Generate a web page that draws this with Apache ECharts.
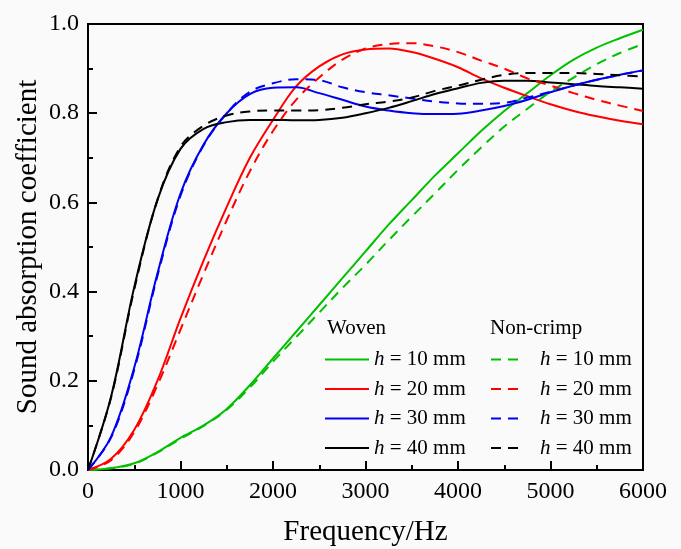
<!DOCTYPE html>
<html>
<head>
<meta charset="utf-8">
<script src="https://cdn.jsdelivr.net/npm/echarts@6/dist/echarts.min.js"></script>
<style>
  html, body { margin: 0; padding: 0; background: #fafafa; }
  #chart { width: 681px; height: 549px; }
</style>
</head>
<body>
<div id="chart"></div>
<script>
// frequency grid (Hz)
var freq = [0, 250, 500, 750, 1000, 1250, 1500, 1750, 2000, 2250, 2500, 2750,
  3000, 3250, 3500, 3750, 4000, 4250, 4500, 4750, 5000, 5250, 5500, 5750, 6000];

// woven
var woven10 = [0, 0.004, 0.015, 0.04, 0.072, 0.1, 0.137, 0.19, 0.25, 0.31, 0.37, 0.43,
  0.49, 0.55, 0.605, 0.66, 0.71, 0.76, 0.805, 0.845, 0.885, 0.92, 0.947, 0.968, 0.987];
var woven20 = [0, 0.025, 0.09, 0.2, 0.34, 0.47, 0.59, 0.7, 0.785, 0.86, 0.905, 0.932,
  0.943, 0.945, 0.937, 0.922, 0.903, 0.878, 0.857, 0.838, 0.82, 0.805, 0.793, 0.783, 0.775];
var woven30 = [0, 0.075, 0.23, 0.44, 0.62, 0.73, 0.8, 0.843, 0.857, 0.858, 0.845, 0.83,
  0.815, 0.806, 0.8, 0.798, 0.799, 0.806, 0.816, 0.83, 0.847, 0.862, 0.875, 0.886, 0.896];
var woven40 = [0, 0.165, 0.41, 0.605, 0.72, 0.765, 0.78, 0.785, 0.785, 0.784, 0.785, 0.79,
  0.8, 0.812, 0.827, 0.843, 0.856, 0.868, 0.873, 0.873, 0.869, 0.865, 0.861, 0.858, 0.855];

// non-crimp
var ncf10 = [0, 0.004, 0.014, 0.039, 0.07, 0.099, 0.135, 0.185, 0.243, 0.298, 0.353, 0.408,
  0.46, 0.515, 0.568, 0.62, 0.673, 0.723, 0.77, 0.81, 0.848, 0.88, 0.91, 0.935, 0.955];
var ncf20 = [0, 0.022, 0.085, 0.19, 0.315, 0.44, 0.56, 0.67, 0.76, 0.83, 0.88, 0.92,
  0.945, 0.955, 0.957, 0.95, 0.937, 0.918, 0.9, 0.878, 0.862, 0.845, 0.83, 0.817, 0.805];
var ncf30 = [0, 0.073, 0.225, 0.435, 0.615, 0.728, 0.8, 0.848, 0.867, 0.876, 0.874, 0.858,
  0.847, 0.84, 0.833, 0.826, 0.822, 0.821, 0.823, 0.835, 0.848, 0.862, 0.875, 0.886, 0.896];
var ncf40 = [0, 0.163, 0.405, 0.605, 0.725, 0.772, 0.795, 0.804, 0.806, 0.806, 0.807, 0.812,
  0.82, 0.826, 0.835, 0.85, 0.862, 0.875, 0.886, 0.89, 0.89, 0.89, 0.888, 0.885, 0.882];

var xTicks = [0, 1000, 2000, 3000, 4000, 5000, 6000];
var yTicks = [0, 0.2, 0.4, 0.6, 0.8, 1.0];

var thick = ['10', '20', '30', '40'];
var colors = ['#00c000', '#ff0000', '#0000ee', '#000000'];
var serif = 'Liberation Serif';

function pairs(vals) {
  return freq.map(function (f, i) { return [f, vals[i]]; });
}

function mkSeries(name, vals, color, dashed) {
  return {
    name: name,
    type: 'line',
    data: pairs(vals),
    smooth: 0.35,
    symbol: 'none',
    color: color,
    lineStyle: { color: color, width: 2, type: dashed ? [10, 7] : 'solid' }
  };
}

var wovenData = [woven10, woven20, woven30, woven40];
var ncfData = [ncf10, ncf20, ncf30, ncf40];
var series = [];
var wovenNames = [], ncfNames = [];
thick.forEach(function (h, i) {
  wovenNames.push('W' + h);
  series.push(mkSeries('W' + h, wovenData[i], colors[i], false));
});
thick.forEach(function (h, i) {
  ncfNames.push('N' + h);
  series.push(mkSeries('N' + h, ncfData[i], colors[i], true));
});

function legendText(name) {
  return '{i|h} = ' + name.slice(1) + ' mm';
}

var legendStyle = {
  fontFamily: serif, fontSize: 21, color: '#000', lineHeight: 21,
  rich: { i: { fontFamily: serif, fontStyle: 'italic', fontSize: 21, color: '#000' } }
};

var chart = echarts.init(document.getElementById('chart'));
chart.setOption({
  backgroundColor: '#fafafa',
  animation: false,
  grid: {
    left: 88, right: 38, top: 24, bottom: 79, outerBoundsMode: 'none',
    show: true, borderColor: '#000', borderWidth: 2
  },
  xAxis: {
    type: 'value', min: 0, max: 6000, interval: 1000,
    name: 'Frequency/Hz', nameLocation: 'middle', nameGap: 48, nameMoveOverlap: false,
    nameTextStyle: { fontFamily: serif, fontSize: 29, color: '#000' },
    axisLine: { lineStyle: { color: '#000', width: 2 } },
    axisTick: { inside: true, length: 9, lineStyle: { color: '#000', width: 2 } },
    minorTick: { show: true, splitNumber: 2, length: 5, lineStyle: { color: '#000', width: 2 } },
    splitLine: { show: false },
    axisLabel: {
      fontFamily: serif, fontSize: 24, color: '#000', margin: 10,
      formatter: function (v) { return xTicks.indexOf(v) >= 0 ? String(v) : ''; }
    }
  },
  yAxis: {
    type: 'value', min: 0, max: 1, interval: 0.2,
    name: 'Sound absorption coefficient', nameLocation: 'middle', nameGap: 45, nameMoveOverlap: false,
    nameTextStyle: { fontFamily: serif, fontSize: 29, color: '#000' },
    axisLine: { lineStyle: { color: '#000', width: 2 } },
    axisTick: { inside: true, length: 9, lineStyle: { color: '#000', width: 2 } },
    minorTick: { show: true, splitNumber: 2, length: 5, lineStyle: { color: '#000', width: 2 } },
    splitLine: { show: false },
    axisLabel: {
      fontFamily: serif, fontSize: 24, color: '#000', margin: 9,
      formatter: function (v) { return yTicks.indexOf(+v.toFixed(1)) >= 0 ? v.toFixed(1) : ''; }
    }
  },
  legend: [
    {
      data: wovenNames, orient: 'vertical', left: 324, top: 349, padding: 0,
      itemWidth: 44, itemHeight: 14, itemGap: 8.5,
      itemStyle: { opacity: 0 },
      formatter: legendText, textStyle: legendStyle
    },
    {
      data: ncfNames, orient: 'vertical', left: 490, top: 349, padding: 0,
      itemWidth: 33, itemHeight: 14, itemGap: 8.5,
      itemStyle: { opacity: 0 },
      formatter: legendText,
      textStyle: Object.assign({}, legendStyle, { padding: [0, 0, 0, 11] })
    }
  ],
  graphic: [
    { type: 'text', left: 327, top: 318, style: { text: 'Woven', font: '21px "Liberation Serif"', fill: '#000' } },
    { type: 'text', left: 490, top: 318, style: { text: 'Non-crimp', font: '21px "Liberation Serif"', fill: '#000' } }
  ],
  series: series
});
</script>
</body>
</html>
